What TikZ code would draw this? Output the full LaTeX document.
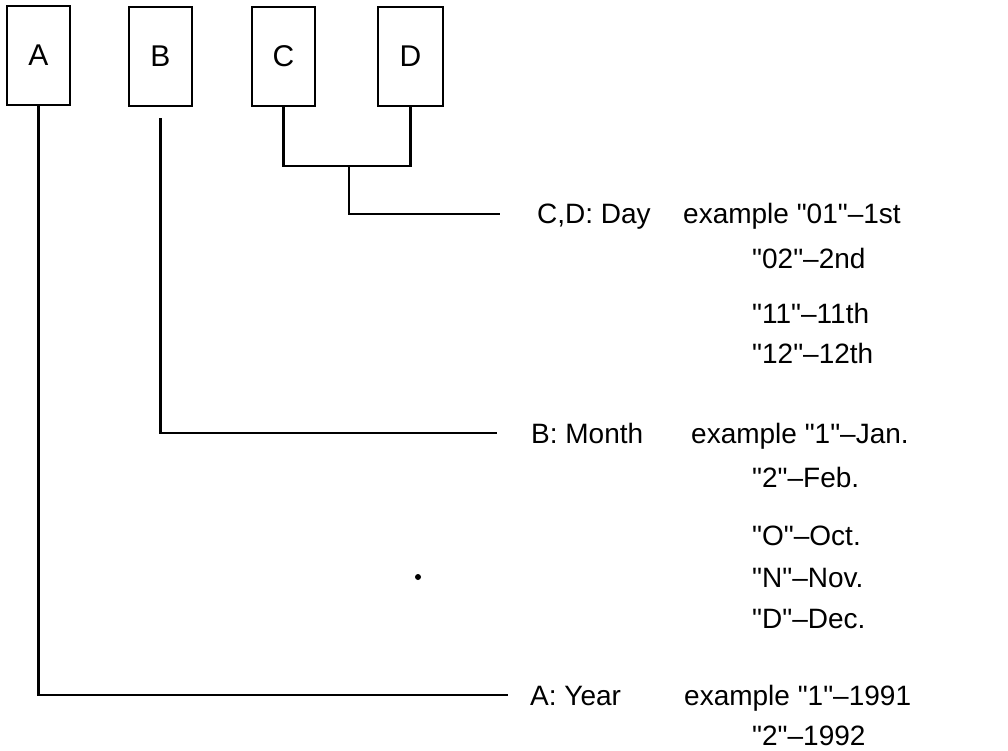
\documentclass[tikz,border=0pt]{standalone}
\usepackage{fontspec}
\setmainfont[Ligatures=TeXOff]{Liberation Sans}
\begin{document}
\begin{tikzpicture}[x=1pt,y=-1pt,
  box/.style={draw,line width=2.2pt,minimum width=63pt,minimum height=99pt,inner sep=0pt,
    font=\fontsize{30}{30}\selectfont},
  wire/.style={line width=2.2pt},
  lbl/.style={anchor=base west,inner sep=0pt,font=\fontsize{28}{28}\selectfont}]
\fill[white] (0,0) rectangle (1008,751);
\useasboundingbox (0,0) rectangle (1008,751);

% code character boxes
\node[box] (A) at (38.5,55.5) {A};
\node[box] (B) at (160.5,56.5) {B};
\node[box] (C) at (283.5,56.5) {C};
\node[box,minimum width=65pt] (D) at (410.5,56.5) {D};

% line ends and junction
\coordinate (join) at (349,166);
\coordinate (dayend) at (500,214);
\coordinate (monthend) at (497,433);
\coordinate (yearend) at (508,695);

% connectors
\draw[wire] (C.south) |- (join) -| (D.south);
\draw[wire] (join) |- (dayend);
\draw[wire] ([yshift=-11pt]B.south) |- (monthend);
\draw[wire] (A.south) |- (yearend);

% field names
\node[lbl] (day) at (537,224) {C,D: Day};
\node[lbl] (month) at (531,443) {B: Month};
\node[lbl] (year) at (530,705) {A: Year};

% day examples
\node[lbl] (d1) at (683,224) {example "01"–1st};
\node[lbl] (d2) at (752,268) {"02"–2nd};
\node[lbl] (d3) at (752,323) {"11"–11th};
\node[lbl] (d4) at (752,363) {"12"–12th};

% month examples
\node[lbl] (m1) at (691,443) {example "1"–Jan.};
\node[lbl] (m2) at (752,487) {"2"–Feb.};
\node[lbl] (m3) at (752,545) {"O"–Oct.};
\node[lbl] (m4) at (752,587) {"N"–Nov.};
\node[lbl] (m5) at (752,628) {"D"–Dec.};

% year examples
\node[lbl] (y1) at (684,705) {example "1"–1991};
\node[lbl] (y2) at (752,745) {"2"–1992};

% small dot
\fill (418,577) circle (3pt);
\end{tikzpicture}
\end{document}
